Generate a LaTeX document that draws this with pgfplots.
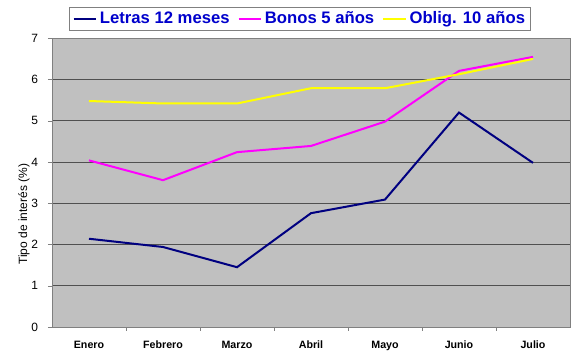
\documentclass[border=0pt]{standalone}
\usepackage{pgfplots}
\pgfplotsset{compat=1.18}
\usepackage{fontspec}
\setmainfont{Liberation Sans}
\definecolor{plotbg}{RGB}{192,192,192}
\definecolor{letras}{RGB}{0,0,128}
\definecolor{bonos}{RGB}{255,0,255}
\definecolor{oblig}{RGB}{255,255,0}
\definecolor{legtext}{RGB}{0,0,204}
\definecolor{gridc}{RGB}{80,80,80}
\definecolor{axisc}{RGB}{128,128,128}
\begin{document}
\begin{tikzpicture}
\path[use as bounding box] (-39pt,-18.75pt) rectangle (392.25pt,245.25pt);
\begin{axis}[
  at={(0,0)}, anchor=south west,
  scale only axis,
  width=388.5pt, height=216.5pt,
  xmin=-0.5, xmax=6.5, ymin=0, ymax=7,
  axis background/.style={fill=plotbg},
  axis line style={axisc},
  xtick={0,1,2,3,4,5,6},
  xticklabels={Enero,Febrero,Marzo,Abril,Mayo,Junio,Julio},
  major x tick style={draw=none},
  minor xtick={0.5,1.5,2.5,3.5,4.5,5.5},
  minor x tick style={axisc},
  minor tick length=3pt,
  ytick={0,1,...,7},
  major tick length=3pt,
  tick align=outside,
  y tick style={axisc},
  xtick pos=bottom, ytick pos=left,
  ymajorgrids,
  major grid style={gridc, line width=0.6pt},
  /pgf/number format/assume math mode=true,
  yticklabel style={font=\fontsize{9}{10}\selectfont, xshift=-4pt},
  xticklabel style={font=\fontsize{8}{9}\selectfont\bfseries, yshift=-4pt},
  ylabel={Tipo de interés (\%)},
  ylabel style={font=\fontsize{9}{10}\selectfont, at={(axis description cs:-0.054,0.39)}, anchor=center, rotate=0},
  legend columns=3,
  legend style={at={(0.479,1)}, anchor=south, yshift=6pt,
    draw=axisc, fill=white, line width=0.6pt,
    font=\fontsize{12.5}{14}\selectfont\bfseries, text=legtext,
    inner xsep=2pt, inner ysep=1pt,
    /tikz/every even column/.append style={column sep=4pt}},
  legend image code/.code={\draw[#1] (0pt,0pt) -- (17pt,0pt);},
]
\addplot[letras, line width=1.5pt] coordinates {(0,2.14) (1,1.94) (2,1.45) (3,2.76) (4,3.09) (5,5.20) (6,3.98)};
\addplot[bonos, line width=1.5pt] coordinates {(0,4.04) (1,3.56) (2,4.24) (3,4.39) (4,4.98) (5,6.21) (6,6.55)};
\addplot[oblig, line width=1.5pt] coordinates {(0,5.48) (1,5.42) (2,5.42) (3,5.79) (4,5.79) (5,6.13) (6,6.50)};
\legend{Letras 12 meses, Bonos 5 años, Oblig. 10 años}
\end{axis}
\end{tikzpicture}
\end{document}
